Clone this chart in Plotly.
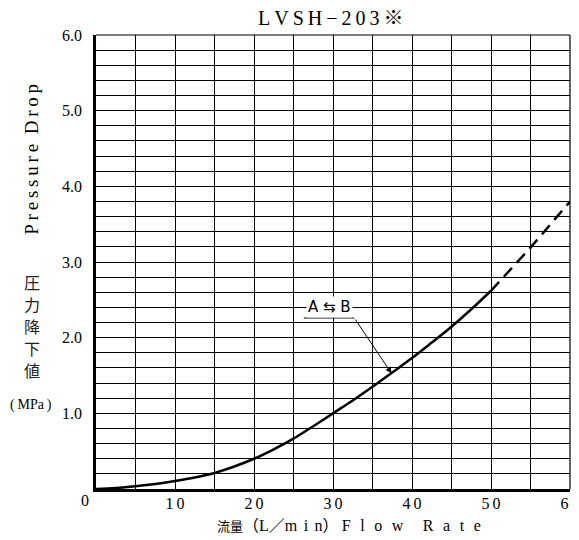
import plotly.graph_objects as go

TS = "\u2009"  # thin space used for letter spacing
TS2 = TS + TS
TS3 = TS * 3

# ---- data ----
flow_solid = [0, 2.5, 5, 7.5, 10, 12.5, 15, 17.5, 20, 22.5, 25, 27.5, 30,
              32.5, 35, 37.5, 40, 42.5, 45, 47.5, 50]
drop_solid = [0, 0.012, 0.035, 0.065, 0.105, 0.152, 0.212, 0.298, 0.40, 0.525, 0.665, 0.83, 1.00,
              1.17, 1.35, 1.54, 1.73, 1.935, 2.145, 2.375, 2.62]
flow_dash = [50, 55, 60]
drop_dash = [2.62, 3.19, 3.80]

xtick_vals = [10, 20, 30, 40, 50, 60]
xtick_text = ["1 0", "2 0", "3 0", "4 0", "5 0", "6 0"]
ytick_vals = [1, 2, 3, 4, 5, 6]
ytick_text = ["1.0", "2.0", "3.0", "4.0", "5.0", "6.0"]

title_text = "LVSH−203※"
ylabel_en = "Pressure Drop"
ylabel_jp = ["圧", "力", "降", "下", "値"]
ylabel_unit = "(MPa)"
xlabel_jp = "流量"
xlabel_en = "Flow Rate"
label_ab = "A ⇆ B"

# label / arrow anchor (data coords)
lab_x, lab_y = 29.5, 2.40
under_x0, under_x1, under_y = 26.3, 32.7, 2.26
tip_x, tip_y = 37.4, 1.53


def spaced(s, gap=TS):
    return gap.join(list(s))


serif = "Liberation Serif, Noto Sans CJK JP, serif"

fig = go.Figure()
fig.add_trace(go.Scatter(x=flow_solid, y=drop_solid, mode="lines",
                         line=dict(color="black", width=2.5, shape="spline", smoothing=1.0),
                         hoverinfo="skip", showlegend=False))
fig.add_trace(go.Scatter(x=flow_dash, y=drop_dash, mode="lines",
                         line=dict(color="black", width=2.5, dash="12px,7px"),
                         hoverinfo="skip", showlegend=False))

# page body has an 8px margin: the figure is shrunk so the plot area lands where the reference's does
fig.update_layout(
    template="none",
    width=571, height=532, autosize=False,
    margin=dict(l=88, r=9, t=27, b=51, pad=0),
    paper_bgcolor="white", plot_bgcolor="white",
    showlegend=False,
    font=dict(family=serif, color="black", size=16),
)

fig.update_xaxes(
    range=[0, 60], tickvals=xtick_vals, ticktext=[t.replace(" ", TS) for t in xtick_text],
    showgrid=True, gridcolor="black", gridwidth=1,
    minor=dict(dtick=5, showgrid=True, gridcolor="black", gridwidth=1),
    showline=True, linecolor="black", linewidth=2.5,
    ticks="", zeroline=False, automargin=False,
    tickfont=dict(family=serif, size=16, color="black"),
    ticklabelstandoff=-2, ticklabeloverflow="allow",
)
fig.update_yaxes(
    range=[0, 6], tickvals=ytick_vals, ticktext=ytick_text,
    showgrid=True, gridcolor="black", gridwidth=1,
    minor=dict(dtick=0.2, showgrid=True, gridcolor="black", gridwidth=1),
    showline=True, linecolor="black", linewidth=2.5,
    ticks="", zeroline=False, automargin=False,
    tickfont=dict(family=serif, size=16, color="black"),
    ticklabelstandoff=8, ticklabeloverflow="allow",
)

ann = []
# title
ann.append(dict(text=spaced(title_text), xref="paper", yref="paper", x=0.495, y=1.037,
                xanchor="center", yanchor="middle", showarrow=False,
                font=dict(family=serif, size=20, color="black")))
# y label english (rotated)
en = "\u2002".join(spaced(w) for w in ylabel_en.split(" "))
ann.append(dict(text=en,
                xref="paper", yref="paper", x=-0.135, y=0.725,
                xanchor="center", yanchor="middle", showarrow=False, textangle=-90,
                font=dict(family=serif, size=19, color="black")))
# y label japanese (stacked, one character per line)
jp_y0 = 0.455
jp_step = 0.0483
for i, ch in enumerate(ylabel_jp):
    ann.append(dict(text=ch, xref="paper", yref="paper", x=-0.136, y=jp_y0 - i * jp_step,
                    xanchor="center", yanchor="middle", showarrow=False,
                    font=dict(family="Noto Sans CJK JP", size=16, color="#222")))
# unit
ann.append(dict(text=ylabel_unit.replace("(", "(" + TS).replace(")", TS + ")"),
                xref="paper", yref="paper", x=-0.137, y=0.185,
                xanchor="center", yanchor="middle", showarrow=False,
                font=dict(family="Liberation Serif", size=14, color="black")))
# x title
xt = ('<span style="font-size:13px">' + xlabel_jp + '</span>'
      + "（L／m" + TS2 + "i" + TS2 + "n）" + TS
      + (TS3 + TS3).join(spaced(w, TS3) for w in xlabel_en.split(" ")))
ann.append(dict(text=xt, xref="paper", yref="paper", x=0.534, y=-0.081,
                xanchor="center", yanchor="middle", showarrow=False,
                font=dict(family=serif, size=16, color="black")))
# origin "0"
ann.append(dict(text="0", xref="x", yref="paper", x=0, y=0, xshift=-11, yshift=-11,
                xanchor="center", yanchor="middle", showarrow=False,
                font=dict(family=serif, size=16, color="black")))
# A <-> B label with white background
ann.append(dict(text=label_ab, xref="x", yref="y", x=lab_x, y=lab_y,
                xanchor="center", yanchor="middle", showarrow=False,
                bgcolor="white", borderpad=1,
                font=dict(family="DejaVu Sans, Liberation Sans", size=15, color="black")))
# leader arrow
ann.append(dict(text="", x=tip_x, y=tip_y, xref="x", yref="y",
                ax=under_x1, ay=under_y, axref="x", ayref="y",
                showarrow=True, arrowhead=2, arrowsize=1.2, arrowwidth=1, arrowcolor="black",
                standoff=0, startstandoff=0))
fig.update_layout(annotations=ann)

fig.add_shape(type="line", xref="x", yref="y", x0=under_x0, x1=under_x1, y0=under_y, y1=under_y,
              line=dict(color="black", width=1), layer="above")
# thin frame on the right and top edges of the grid
fig.add_shape(type="line", xref="paper", yref="paper", x0=1, x1=1, y0=0, y1=1,
              line=dict(color="black", width=1.2), layer="above")
fig.add_shape(type="line", xref="paper", yref="paper", x0=0, x1=1, y0=1, y1=1,
              line=dict(color="black", width=1.2), layer="above")

fig.write_html("out.html")
